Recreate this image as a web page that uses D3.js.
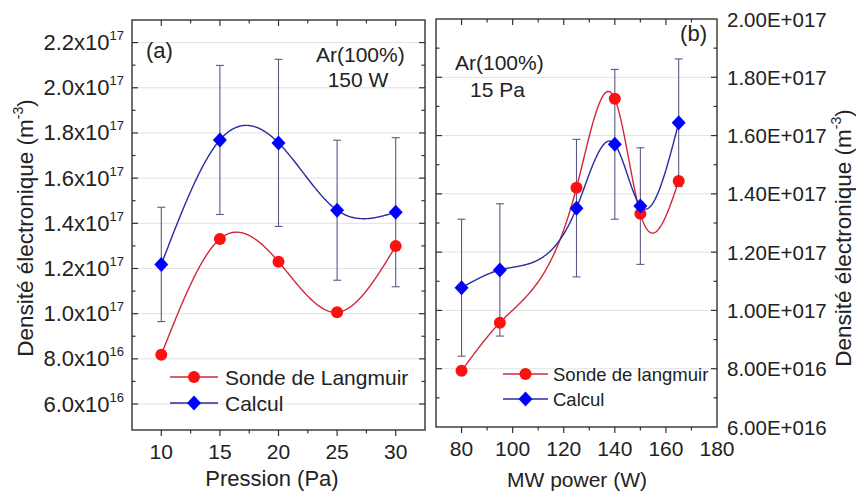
<!DOCTYPE html>
<html><head><meta charset="utf-8">
<script src="https://cdn.jsdelivr.net/npm/d3@7"></script>
<style>
html,body{margin:0;padding:0;background:#fff;}
svg{display:block;font-family:"Liberation Sans",Arial,sans-serif;}
</style></head>
<body>
<svg id="chart" width="856" height="497"></svg>
<script>
// ---------- data ----------
const pression = [10, 15, 20, 25, 30];
const pressionSonde = [8.18e16, 1.331e17, 1.23e17, 1.006e17, 1.299e17];
const pressionCalcul = [1.218e17, 1.769e17, 1.756e17, 1.458e17, 1.449e17];
const pressionCalculErr = [2.53e16, 3.3e16, 3.7e16, 3.1e16, 3.3e16];

const power = [80, 95, 125, 140, 150, 165];
const powerSonde = [7.93e16, 9.58e16, 1.421e17, 1.726e17, 1.332e17, 1.444e17];
const powerCalcul = [1.078e17, 1.139e17, 1.351e17, 1.570e17, 1.358e17, 1.644e17];
const powerCalculErr = [2.35e16, 2.27e16, 2.36e16, 2.57e16, 2.0e16, 2.19e16];

const leftXTicks = [10, 15, 20, 25, 30];
const leftXMinor = [12.5, 17.5, 22.5, 27.5];
const leftYTicks = [6e16, 8e16, 1e17, 1.2e17, 1.4e17, 1.6e17, 1.8e17, 2.0e17, 2.2e17];
const leftYMinor = [7e16, 9e16, 1.1e17, 1.3e17, 1.5e17, 1.7e17, 1.9e17, 2.1e17];
const leftYLabels = ["6.0", "8.0", "1.0", "1.2", "1.4", "1.6", "1.8", "2.0", "2.2"];
const leftYExp = ["16", "16", "17", "17", "17", "17", "17", "17", "17"];

const rightXTicks = [80, 100, 120, 140, 160, 180];
const rightXMinor = [90, 110, 130, 150, 170];
const rightYTicks = [6e16, 8e16, 1e17, 1.2e17, 1.4e17, 1.6e17, 1.8e17, 2.0e17];
const rightYMinor = [7e16, 9e16, 1.1e17, 1.3e17, 1.5e17, 1.7e17, 1.9e17];
const rightYLabels = ["6.00E+016", "8.00E+016", "1.00E+017", "1.20E+017", "1.40E+017", "1.60E+017", "1.80E+017", "2.00E+017"];

const legendLeft = ["Sonde de Langmuir", "Calcul"];
const legendRight = ["Sonde de langmuir", "Calcul"];

// ---------- styles ----------
const RED = "#ff1010", REDLINE = "#d0283a", BLUE = "#0000ff", BLUELINE = "#2b2ba0", ERR = "#5a5a88", FRAME = "#333", GRID = "#e2e2e2";

const svg = d3.select("#chart");

function naturalSpline(xs, ys) {
  const n = xs.length, h = [], M = new Array(n).fill(0);
  for (let i = 0; i < n - 1; i++) h.push(xs[i + 1] - xs[i]);
  const a = [], b = [], c = [], d = [];
  for (let i = 1; i < n - 1; i++) {
    a.push(h[i - 1]); b.push(2 * (h[i - 1] + h[i])); c.push(h[i]);
    d.push(6 * ((ys[i + 1] - ys[i]) / h[i] - (ys[i] - ys[i - 1]) / h[i - 1]));
  }
  const m = b.length;
  for (let i = 1; i < m; i++) { const w = a[i] / b[i - 1]; b[i] -= w * c[i - 1]; d[i] -= w * d[i - 1]; }
  const sol = new Array(m);
  for (let i = m - 1; i >= 0; i--) sol[i] = (d[i] - (i < m - 1 ? c[i] * sol[i + 1] : 0)) / b[i];
  for (let i = 0; i < m; i++) M[i + 1] = sol[i];
  return function (x) {
    let i = 0; while (i < n - 2 && x > xs[i + 1]) i++;
    const hi = h[i], A = (xs[i + 1] - x) / hi, B = (x - xs[i]) / hi;
    return A * ys[i] + B * ys[i + 1] + ((A * A * A - A) * M[i] + (B * B * B - B) * M[i + 1]) * hi * hi / 6;
  };
}

function panel(cfg) {
  const g = svg.append("g");
  const x = d3.scaleLinear().domain(cfg.xDomain).range(cfg.xRange);
  const y = d3.scaleLinear().domain(cfg.yDomain).range(cfg.yRange);
  const [x0, x1] = cfg.xRange, [y0, y1] = [cfg.yRange[1], cfg.yRange[0]];
  // grid
  g.selectAll(".grid").data(cfg.yTicks.filter(v => y(v) > y0 + 3 && y(v) < y1 - 3)).enter().append("line")
    .attr("x1", x0).attr("x2", x1).attr("y1", d => y(d)).attr("y2", d => y(d))
    .attr("stroke", GRID).attr("stroke-width", 1);
  // frame
  g.append("rect").attr("x", x0).attr("y", y0).attr("width", x1 - x0).attr("height", y1 - y0)
    .attr("fill", "none").attr("stroke", FRAME).attr("stroke-width", 1.4);
  const tk = (vals, len, xDir) => {
    vals.forEach(v => {
      if (xDir) {
        const px = x(v);
        g.append("line").attr("x1", px).attr("x2", px).attr("y1", y1).attr("y2", y1 + len).attr("stroke", FRAME).attr("stroke-width", 1.2);
        g.append("line").attr("x1", px).attr("x2", px).attr("y1", y0).attr("y2", y0 + len).attr("stroke", FRAME).attr("stroke-width", 1.2);
      } else {
        const py = y(v);
        if (py < y0 + 3 || py > y1 - 3) return;
        g.append("line").attr("x1", x0).attr("x2", x0 + len).attr("y1", py).attr("y2", py).attr("stroke", FRAME).attr("stroke-width", 1.2);
        g.append("line").attr("x1", x1).attr("x2", x1 - len).attr("y1", py).attr("y2", py).attr("stroke", FRAME).attr("stroke-width", 1.2);
      }
    });
  };
  tk(cfg.xTicks.filter(v => v < cfg.xDomain[1]), 6, true);
  tk(cfg.xMinor, 3.5, true);
  tk(cfg.yTicks, 6, false);
  tk(cfg.yMinor, 3.5, false);
  // x tick labels
  g.selectAll(".xl").data(cfg.xTicks).enter().append("text")
    .attr("x", d => x(d)).attr("y", y1 + 29).attr("text-anchor", "middle")
    .attr("font-size", 21).attr("fill", "#222").text(d => d);
  // error bars
  const eb = g.append("g").attr("stroke", ERR).attr("stroke-width", 1.1);
  cfg.xs.forEach((xv, i) => {
    const px = x(xv), top = y(cfg.calc[i] + cfg.err[i]), bot = y(cfg.calc[i] - cfg.err[i]);
    eb.append("line").attr("x1", px).attr("x2", px).attr("y1", top).attr("y2", bot);
    eb.append("line").attr("x1", px - 4).attr("x2", px + 4).attr("y1", top).attr("y2", top);
    eb.append("line").attr("x1", px - 4).attr("x2", px + 4).attr("y1", bot).attr("y2", bot);
  });
  // curves
  const line = d3.line().x(d => x(d[0])).y(d => y(d[1]));
  const drawCurve = (ys, color) => {
    const f = naturalSpline(cfg.xs, ys);
    const xa = cfg.xs[0], xb = cfg.xs[cfg.xs.length - 1];
    const pts = d3.range(0, 301).map(k => { const xv = xa + (xb - xa) * k / 300; return [xv, f(xv)]; });
    g.append("path").attr("d", line(pts)).attr("fill", "none").attr("stroke", color).attr("stroke-width", 1.4);
  };
  drawCurve(cfg.sonde, REDLINE);
  drawCurve(cfg.calc, BLUELINE);
  // markers
  cfg.xs.forEach((xv, i) => {
    g.append("circle").attr("cx", x(xv)).attr("cy", y(cfg.sonde[i])).attr("r", 6).attr("fill", RED);
  });
  cfg.xs.forEach((xv, i) => {
    g.append("path").attr("transform", `translate(${x(xv)},${y(cfg.calc[i])})`)
      .attr("d", "M0,-7.5L7,0L0,7.5L-7,0Z").attr("fill", BLUE);
  });
  return { g, x, y };
}

const L = panel({
  xDomain: [7.5, 32.5], xRange: [132, 425], yDomain: [4.85e16, 2.30e17], yRange: [430, 20],
  xTicks: leftXTicks, xMinor: leftXMinor, yTicks: leftYTicks, yMinor: leftYMinor,
  xs: pression, sonde: pressionSonde, calc: pressionCalcul, err: pressionCalculErr
});
const R = panel({
  xDomain: [70, 180], xRange: [436, 717], yDomain: [6e16, 2e17], yRange: [427, 19],
  xTicks: rightXTicks, xMinor: rightXMinor, yTicks: rightYTicks, yMinor: rightYMinor,
  xs: power, sonde: powerSonde, calc: powerCalcul, err: powerCalculErr
});

// left y tick labels
leftYTicks.forEach((v, i) => {
  const t = svg.append("text").attr("x", 124).attr("y", L.y(v) + 7.5).attr("text-anchor", "end")
    .attr("font-size", 22).attr("fill", "#222");
  t.append("tspan").text(leftYLabels[i] + "x10");
  t.append("tspan").attr("font-size", 13).attr("dy", -10).text(leftYExp[i]);
});
// right y tick labels
rightYTicks.forEach((v, i) => {
  svg.append("text").attr("x", 727).attr("y", R.y(v) + 7.5).attr("font-size", 20.5).attr("fill", "#222")
    .text(rightYLabels[i]);
});

// axis titles
svg.append("text").attr("x", 272).attr("y", 486).attr("text-anchor", "middle").attr("font-size", 22).attr("fill", "#222").text("Pression (Pa)");
svg.append("text").attr("x", 577).attr("y", 487).attr("text-anchor", "middle").attr("font-size", 21).attr("fill", "#222").text("MW power (W)");
function yTitle(xp, yp) {
  const t = svg.append("text").attr("transform", `translate(${xp},${yp}) rotate(-90)`).attr("text-anchor", "middle")
    .attr("font-size", 22.5).attr("fill", "#222");
  t.append("tspan").text("Densité électronique (m");
  t.append("tspan").attr("font-size", 14).attr("dy", -10).text("-3");
  t.append("tspan").attr("dy", 10).text(")");
}
yTitle(33, 228);
yTitle(851, 238);

// annotations
const ann = (x, y, s, anchor, fs) => svg.append("text").attr("x", x).attr("y", y).attr("font-size", fs || 21)
  .attr("text-anchor", anchor || "start").attr("fill", "#222").text(s);
ann(146, 58, "(a)", "start", 22);
ann(707, 41, "(b)", "end", 22);
ann(316, 62, "Ar(100%)");
ann(358, 87, "150 W", "middle");
ann(455, 70, "Ar(100%)");
ann(470, 97, "15 Pa");

// legends
function legend(items, lx0, lx1, tx, ys, fs) {
  const mx = (lx0 + lx1) / 2;
  svg.append("line").attr("x1", lx0).attr("x2", lx1).attr("y1", ys[0]).attr("y2", ys[0]).attr("stroke", REDLINE).attr("stroke-width", 1.4);
  svg.append("circle").attr("cx", mx).attr("cy", ys[0]).attr("r", 6).attr("fill", RED);
  svg.append("line").attr("x1", lx0).attr("x2", lx1).attr("y1", ys[1]).attr("y2", ys[1]).attr("stroke", BLUELINE).attr("stroke-width", 1.4);
  svg.append("path").attr("transform", `translate(${mx},${ys[1]})`).attr("d", "M0,-7.5L7,0L0,7.5L-7,0Z").attr("fill", BLUE);
  items.forEach((s, i) => svg.append("text").attr("x", tx).attr("y", ys[i] + fs * 0.36).attr("font-size", fs).attr("fill", "#222").text(s));
}
legend(legendLeft, 170, 218, 225, [377, 403], 21);
legend(legendRight, 503, 548, 553, [374, 399], 18.5);
</script>
</body></html>
